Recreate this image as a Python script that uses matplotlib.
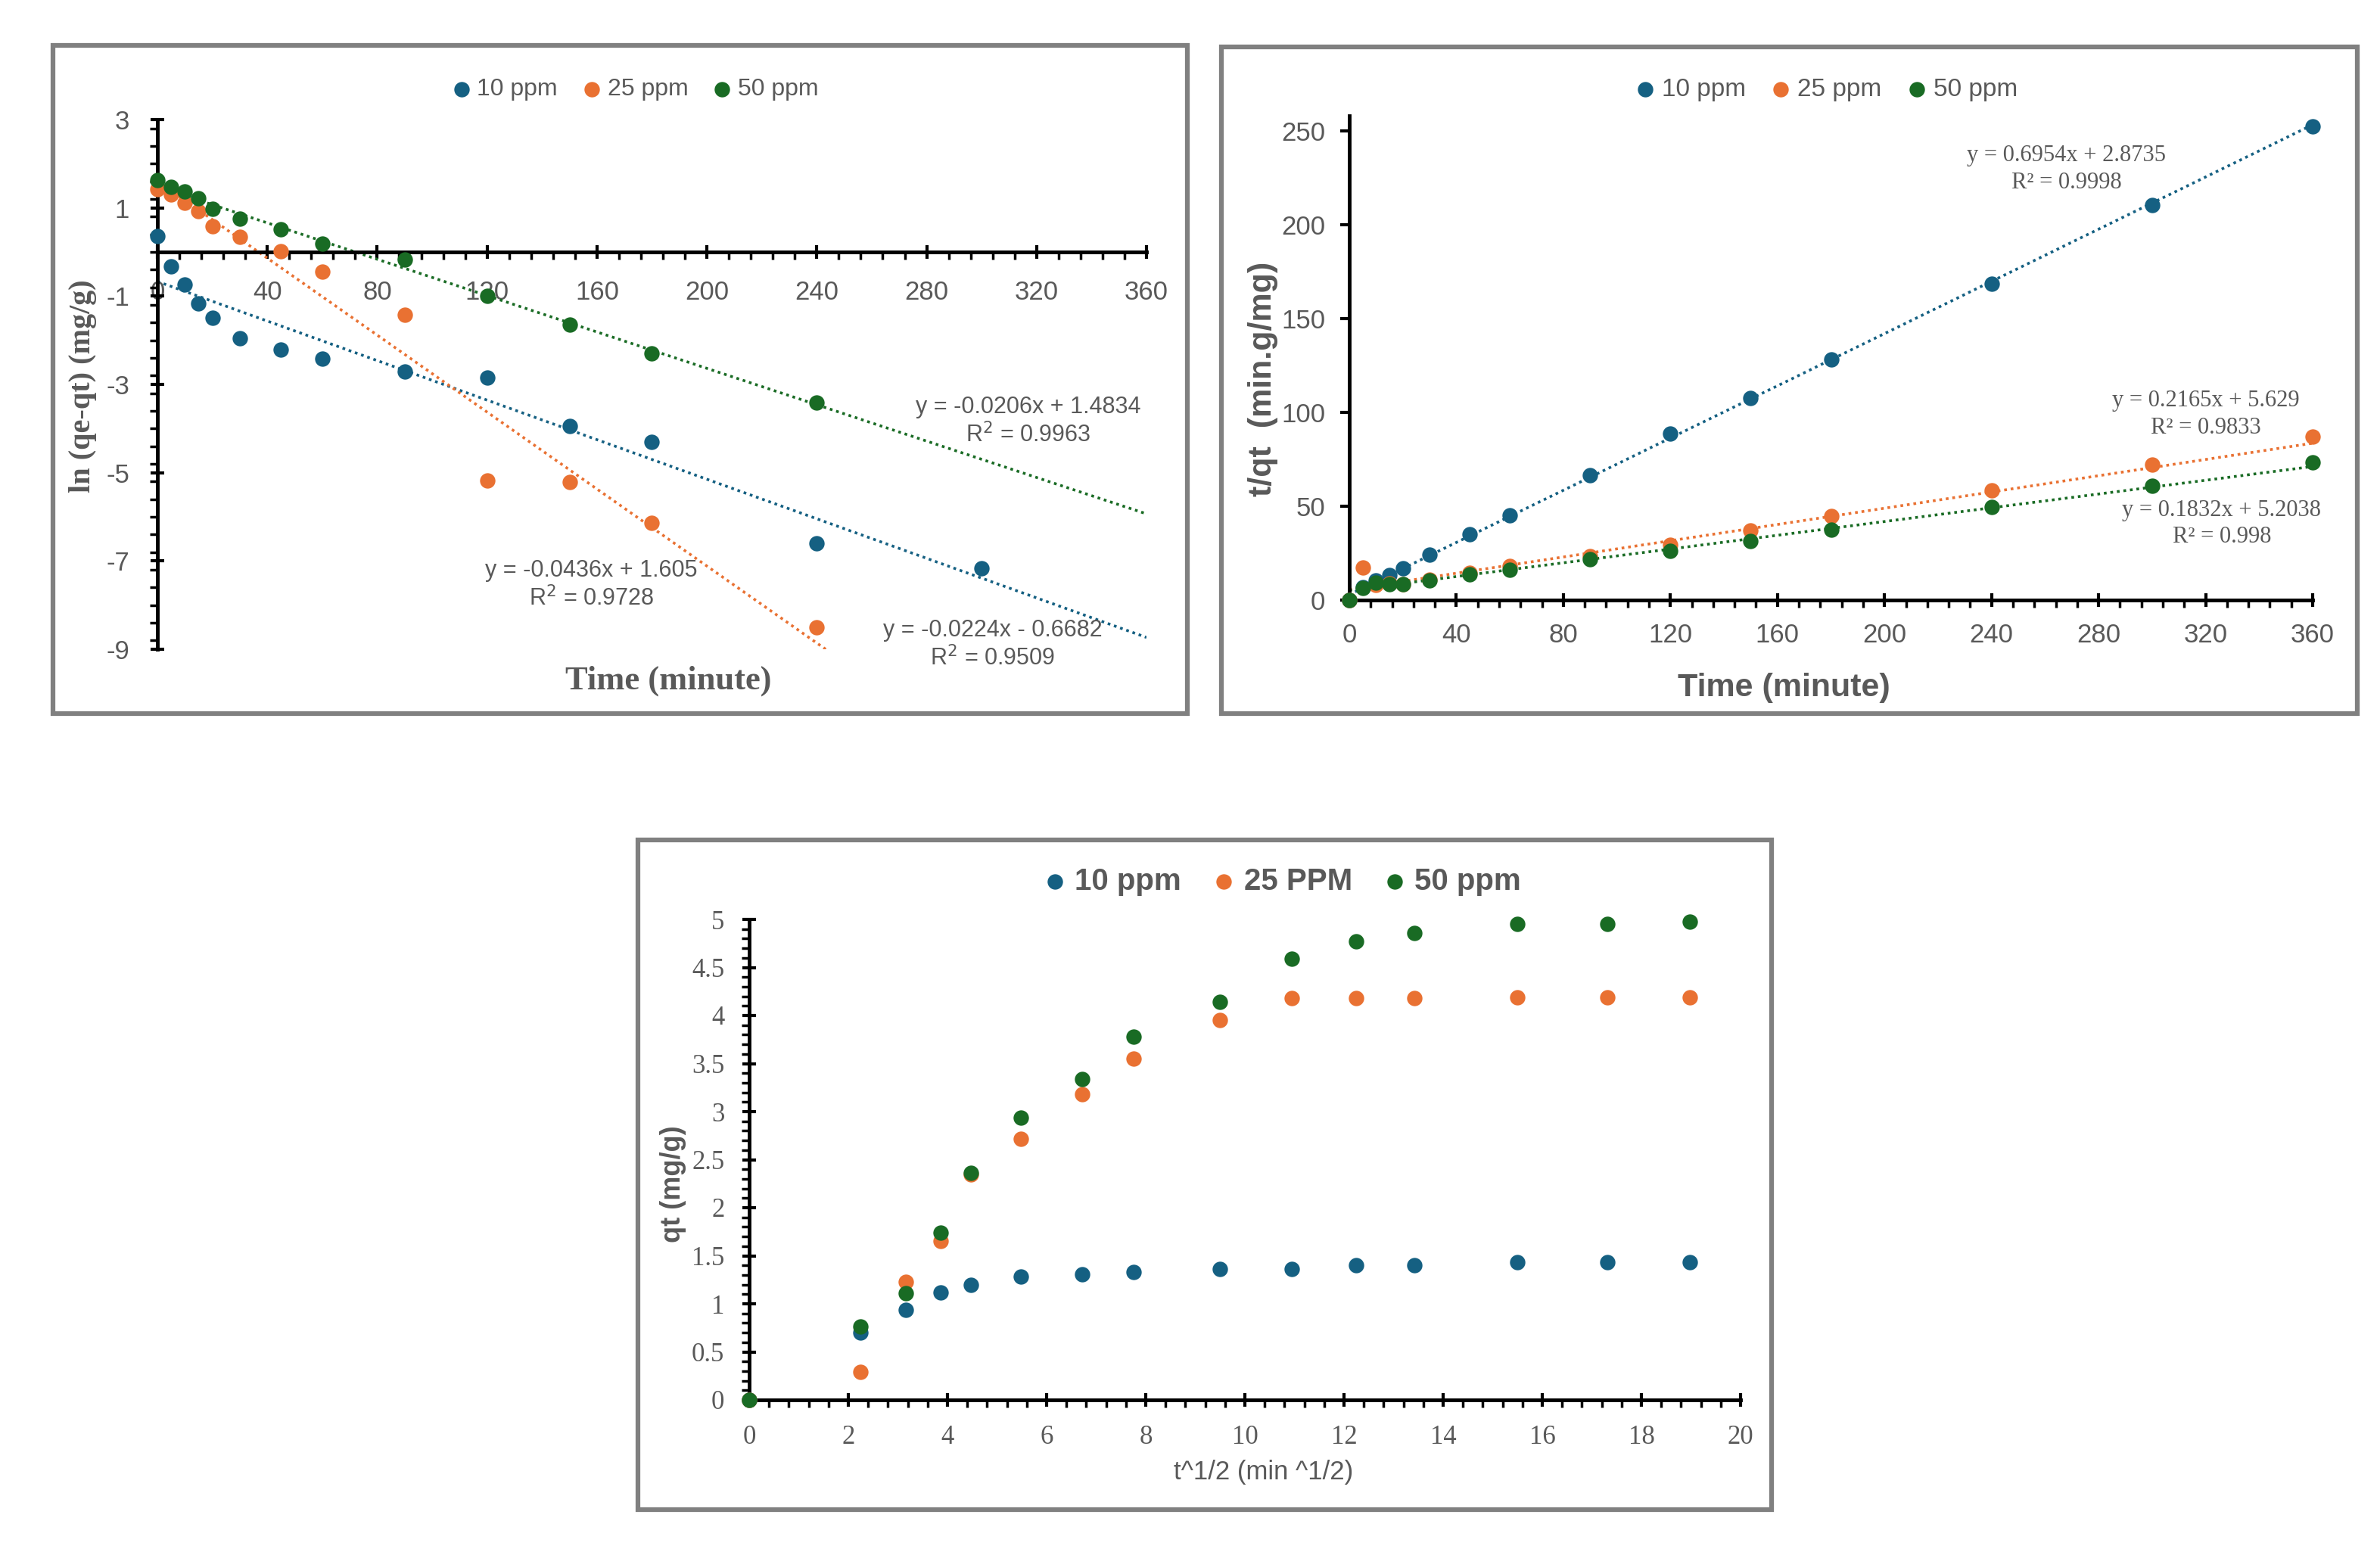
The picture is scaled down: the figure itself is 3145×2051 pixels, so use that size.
import matplotlib
matplotlib.use("Agg")
from matplotlib import pyplot as plt
from matplotlib.patches import Rectangle
from matplotlib.ticker import MultipleLocator, NullLocator

plt.rcParams["axes.unicode_minus"] = False

# ---- data ----
series = ["10 ppm", "25 ppm", "50 ppm"]
colors = ["#156082", "#E97132", "#196B24"]

t_min = [0, 5, 10, 15, 20, 30, 45, 60, 90, 120, 150, 180, 240, 300, 360]

# pseudo-first-order: ln(qe-qt)
ln_10 = [0.36, -0.33, -0.74, -1.17, -1.50, -1.95, -2.22, -2.41, -2.71, -2.84, -3.95, -4.31, -6.60, -7.16]
ln_25 = [1.43, 1.30, 1.12, 0.93, 0.59, 0.35, 0.02, -0.45, -1.42, -5.18, -5.22, -6.14, -8.50]
ln_50 = [1.62, 1.47, 1.37, 1.22, 0.97, 0.76, 0.51, 0.19, -0.18, -0.99, -1.64, -2.29, -3.41]
pfo_fit = [(-0.0224, -0.6682), (-0.0436, 1.605), (-0.0206, 1.4834)]
pfo_eq = ["y = -0.0224x - 0.6682\nR$^2$ = 0.9509",
          "y = -0.0436x + 1.605\nR$^2$ = 0.9728",
          "y = -0.0206x + 1.4834\nR$^2$ = 0.9963"]

# pseudo-second-order: t/qt
tq_10 = [0, 6.9, 10.4, 13.4, 17.0, 24.3, 34.9, 45.2, 66.4, 88.5, 107.6, 128.0, 168.7, 210.5, 252.3]
tq_25 = [0, 17.3, 8.2, 9.0, 8.4, 11.0, 14.5, 18.0, 23.5, 29.5, 37.0, 44.8, 58.3, 72.3, 86.9]
tq_50 = [0, 6.6, 9.1, 8.6, 8.4, 10.4, 13.8, 16.1, 21.8, 26.3, 31.5, 37.4, 49.5, 61.0, 73.4]
pso_fit = [(0.6954, 2.8735), (0.2165, 5.629), (0.1832, 5.2038)]
pso_eq = ["y = 0.6954x + 2.8735\nR² = 0.9998",
          "y = 0.2165x + 5.629\nR² = 0.9833",
          "y = 0.1832x + 5.2038\nR² = 0.998"]

# intraparticle diffusion: qt vs t^1/2
sqrt_t = [0, 2.24, 3.16, 3.87, 4.47, 5.48, 6.71, 7.75, 9.49, 10.95, 12.25, 13.42, 15.49, 17.32, 18.97]
qt_10 = [0, 0.70, 0.94, 1.12, 1.20, 1.28, 1.31, 1.33, 1.36, 1.36, 1.40, 1.40, 1.43, 1.43, 1.43]
qt_25 = [0, 0.29, 1.23, 1.65, 2.35, 2.72, 3.18, 3.55, 3.95, 4.18, 4.18, 4.18, 4.19, 4.19, 4.19]
qt_50 = [0, 0.76, 1.11, 1.74, 2.36, 2.94, 3.34, 3.78, 4.14, 4.59, 4.77, 4.86, 4.95, 4.95, 4.98]
ipd_labels = ["10 ppm", "25 PPM", "50 ppm"]

SANS = ["Liberation Sans", "DejaVu Sans"]
SERIF = ["Liberation Serif", "DejaVu Serif"]
GREY = "#595959"

W, H = 3145, 2051
fig = plt.figure(figsize=(W / 100, H / 100), dpi=100)


def fx(x):
    return x / W


def fy(y):
    return 1 - y / H


def axes_px(x0, x1, ytop, ybot):
    return fig.add_axes([fx(x0), fy(ybot), fx(x1 - x0), (ybot - ytop) / H])


def frame(x0, y0, x1, y1):
    fig.patches.append(Rectangle((fx(x0), fy(y1)), fx(x1 - x0), (y1 - y0) / H,
                                 transform=fig.transFigure, fill=False,
                                 edgecolor="#808080", linewidth=4.5))


def style_axes(ax, family, ypad, xpad):
    for s in ["top", "right"]:
        ax.spines[s].set_visible(False)
    for s in ["left", "bottom"]:
        ax.spines[s].set_linewidth(3.5)
        ax.spines[s].set_color("black")
    ax.tick_params(which="major", direction="inout", length=13, width=3, colors="black",
                   labelcolor=GREY, labelsize=25)
    ax.tick_params(which="minor", direction="out", length=7, width=2.5, colors="black")
    ax.tick_params(axis="y", which="major", pad=ypad)
    ax.tick_params(axis="x", which="major", pad=xpad)
    for lab in ax.get_xticklabels() + ax.get_yticklabels():
        lab.set_family(family)


def add_legend(ax, handles, labels, cx, cy, size, weight):
    fig.legend(handles, labels, loc="center", bbox_to_anchor=(fx(cx), fy(cy)),
               ncol=3, frameon=False, handletextpad=0.05, columnspacing=0.8,
               markerscale=1.0, handlelength=1.2,
               prop={"family": SANS, "size": size, "weight": weight},
               labelcolor=GREY)


dots = (0, (1, 1.4))

# ---- frames ----
frame(70, 60, 1569, 943)
frame(1614, 62, 3115, 943)
frame(843, 1110, 2341, 1995)

# ---- panel 1 : ln(qe-qt) ----
ax1 = axes_px(208, 1515, 158, 858)
ax1.set_xlim(0, 360)
ax1.set_ylim(-9, 3)
ax1.spines["bottom"].set_position(("data", 0))
ax1.xaxis.set_major_locator(MultipleLocator(40))
ax1.xaxis.set_minor_locator(MultipleLocator(8))
ax1.yaxis.set_minor_locator(MultipleLocator(0.4))
ax1.set_yticks([3, 1, -1, -3, -5, -7, -9])
handles = []
for vals, col, lab in zip([ln_10, ln_25, ln_50], colors, series):
    h = ax1.scatter(t_min[:len(vals)], vals, s=215, color=col, zorder=3, clip_on=False,
                    label=lab, linewidths=0)
    handles.append(h)
for (m, b), col in zip(pfo_fit, colors):
    ax1.plot([0, 360], [b, b + m * 360], color=col, lw=2.6, ls=dots, zorder=2)
style_axes(ax1, SANS, 20, 20)
for txt, (x, y) in zip(pfo_eq, [(304, -8.9), (158, -7.55), (317, -3.84)]):
    ax1.text(x, y, txt, ha="center", va="center", fontsize=22, color=GREY,
             family=SANS, linespacing=1.25)
add_legend(ax1, handles, series, 836, 118, 23, "normal")
fig.text(fx(883), fy(900), "Time (minute)", ha="center", va="center",
         fontsize=32, fontweight="bold", family=SERIF, color=GREY)
fig.text(fx(110), fy(510), "ln (qe-qt) (mg/g)", ha="center", va="center", rotation=90,
         fontsize=29, fontweight="bold", family=SERIF, color=GREY)

# ---- panel 2 : t/qt ----
ax2 = axes_px(1783, 3056, 153, 793)
ax2.set_xlim(0, 360)
ax2.set_ylim(0, 258)
ax2.xaxis.set_major_locator(MultipleLocator(40))
ax2.xaxis.set_minor_locator(MultipleLocator(8))
ax2.yaxis.set_major_locator(MultipleLocator(50))
ax2.yaxis.set_minor_locator(NullLocator())
handles = []
for vals, col, lab in zip([tq_10, tq_25, tq_50], colors, series):
    h = ax2.scatter(t_min, vals, s=215, color=col, zorder=3, clip_on=False,
                    label=lab, linewidths=0)
    handles.append(h)
for (m, b), col in zip(pso_fit, colors):
    ax2.plot([0, 360], [b, b + m * 360], color=col, lw=2.6, ls=dots, zorder=2)
style_axes(ax2, SANS, 15, 15)
ax2.tick_params(axis="y", which="major", direction="out", length=9, pad=14)
for txt, (x, y) in zip(pso_eq, [(268, 229.5), (320, 99), (326, 40.7)]):
    ax2.text(x, y, txt, ha="center", va="center", fontsize=22, color=GREY,
             family=SERIF, linespacing=1.3)
add_legend(ax2, handles, series, 2410, 118, 24, "normal")
fig.text(fx(2357), fy(909), "Time (minute)", ha="center", va="center",
         fontsize=31, fontweight="bold", family=SANS, color=GREY)
fig.text(fx(1669), fy(501), "t/qt  (min.g/mg)", ha="center", va="center", rotation=90,
         fontsize=31, fontweight="bold", family=SANS, color=GREY)

# ---- panel 3 : qt vs t^1/2 ----
ax3 = axes_px(990, 2300, 1215, 1850)
ax3.set_xlim(0, 20)
ax3.set_ylim(0, 5)
ax3.xaxis.set_major_locator(MultipleLocator(2))
ax3.xaxis.set_minor_locator(MultipleLocator(0.4))
ax3.yaxis.set_minor_locator(MultipleLocator(0.1))
ax3.set_yticks([0, 0.5, 1, 1.5, 2, 2.5, 3, 3.5, 4, 4.5, 5])
ax3.set_yticklabels(["0", "0.5", "1", "1.5", "2", "2.5", "3", "3.5", "4", "4.5", "5"])
handles = []
for vals, col, lab in zip([qt_10, qt_25, qt_50], colors, ipd_labels):
    h = ax3.scatter(sqrt_t, vals, s=215, color=col, zorder=3, clip_on=False,
                    label=lab, linewidths=0)
    handles.append(h)
style_axes(ax3, SERIF, 17, 17)
add_legend(ax3, handles, ipd_labels, 1690, 1165, 29, "bold")
fig.text(fx(1670), fy(1946), "t^1/2 (min ^1/2)", ha="center", va="center",
         fontsize=25, family=SANS, color=GREY)
fig.text(fx(889), fy(1565), "qt (mg/g)", ha="center", va="center", rotation=90,
         fontsize=26, fontweight="bold", family=SANS, color=GREY)

fig.savefig("out.png", dpi=100, facecolor="white")
